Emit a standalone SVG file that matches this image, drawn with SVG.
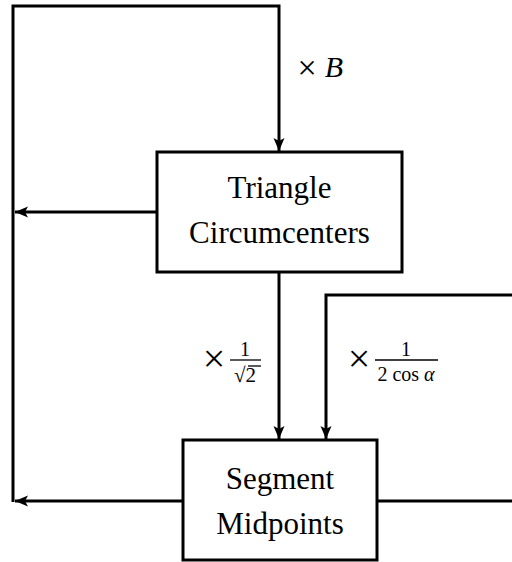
<svg xmlns="http://www.w3.org/2000/svg" width="512" height="562" viewBox="0 0 512 562">
<style>
.box{fill:#fff;stroke:#000;stroke-width:3}
.ln{fill:none;stroke:#000;stroke-width:3}
.lbl{font-family:"Liberation Serif","Times New Roman",serif;font-size:31px;fill:#000;text-anchor:middle}
.m{font-family:"Liberation Serif","Times New Roman",serif;fill:#000}
.bar{stroke:#000;stroke-width:1.3}
</style>
<defs>
<marker id="arr" markerUnits="userSpaceOnUse" markerWidth="14" markerHeight="12" viewBox="-13 -6 14 12" refX="0" refY="0" orient="auto">
<path d="M0,0 L-13,-5.5 L-10,0 L-13,5.5 Z" fill="#000"/>
</marker>
</defs>
<rect width="512" height="562" fill="#fff"/>
<g id="connectors">
<path class="ln" d="M13,502 V6 H279 V151" marker-end="url(#arr)"/>
<path class="ln" d="M157,212 H15" marker-end="url(#arr)"/>
<path class="ln" d="M183,501 H15" marker-end="url(#arr)"/>
<path class="ln" d="M279,272 V439" marker-end="url(#arr)"/>
<path class="ln" d="M512,295 H326 V439" marker-end="url(#arr)"/>
<path class="ln" d="M377,501 H512"/>
</g>
<g id="label-B">
<text class="m" x="307" y="79" font-size="34" text-anchor="middle">×</text>
<text class="m" x="334" y="77" font-size="30" font-style="italic" text-anchor="middle">B</text>
</g>
<g id="label-sqrt2">
<text class="m" x="214" y="372" font-size="40" text-anchor="middle">×</text>
<line class="bar" x1="230" y1="360" x2="261" y2="360"/>
<text class="m" x="245" y="356" font-size="20" text-anchor="middle">1</text>
<text class="m" x="245" y="382" font-size="21" text-anchor="middle">√2</text>
<line class="bar" x1="248" y1="366" x2="261" y2="366"/>
</g>
<g id="label-cos">
<text class="m" x="359" y="372" font-size="40" text-anchor="middle">×</text>
<line class="bar" x1="375" y1="360" x2="438" y2="360"/>
<text class="m" x="406" y="356" font-size="20" text-anchor="middle">1</text>
<text class="m" x="406" y="381" font-size="20" text-anchor="middle">2 cos <tspan font-style="italic">α</tspan></text>
</g>
<g id="node-circumcenters">
<rect class="box" x="157" y="152" width="245" height="120"/>
<text class="lbl" x="279.5" y="198">Triangle</text>
<text class="lbl" x="279.5" y="243">Circumcenters</text>
</g>
<g id="node-midpoints">
<rect class="box" x="183" y="440" width="194" height="120"/>
<text class="lbl" x="280" y="489">Segment</text>
<text class="lbl" x="280" y="534">Midpoints</text>
</g>
</svg>
